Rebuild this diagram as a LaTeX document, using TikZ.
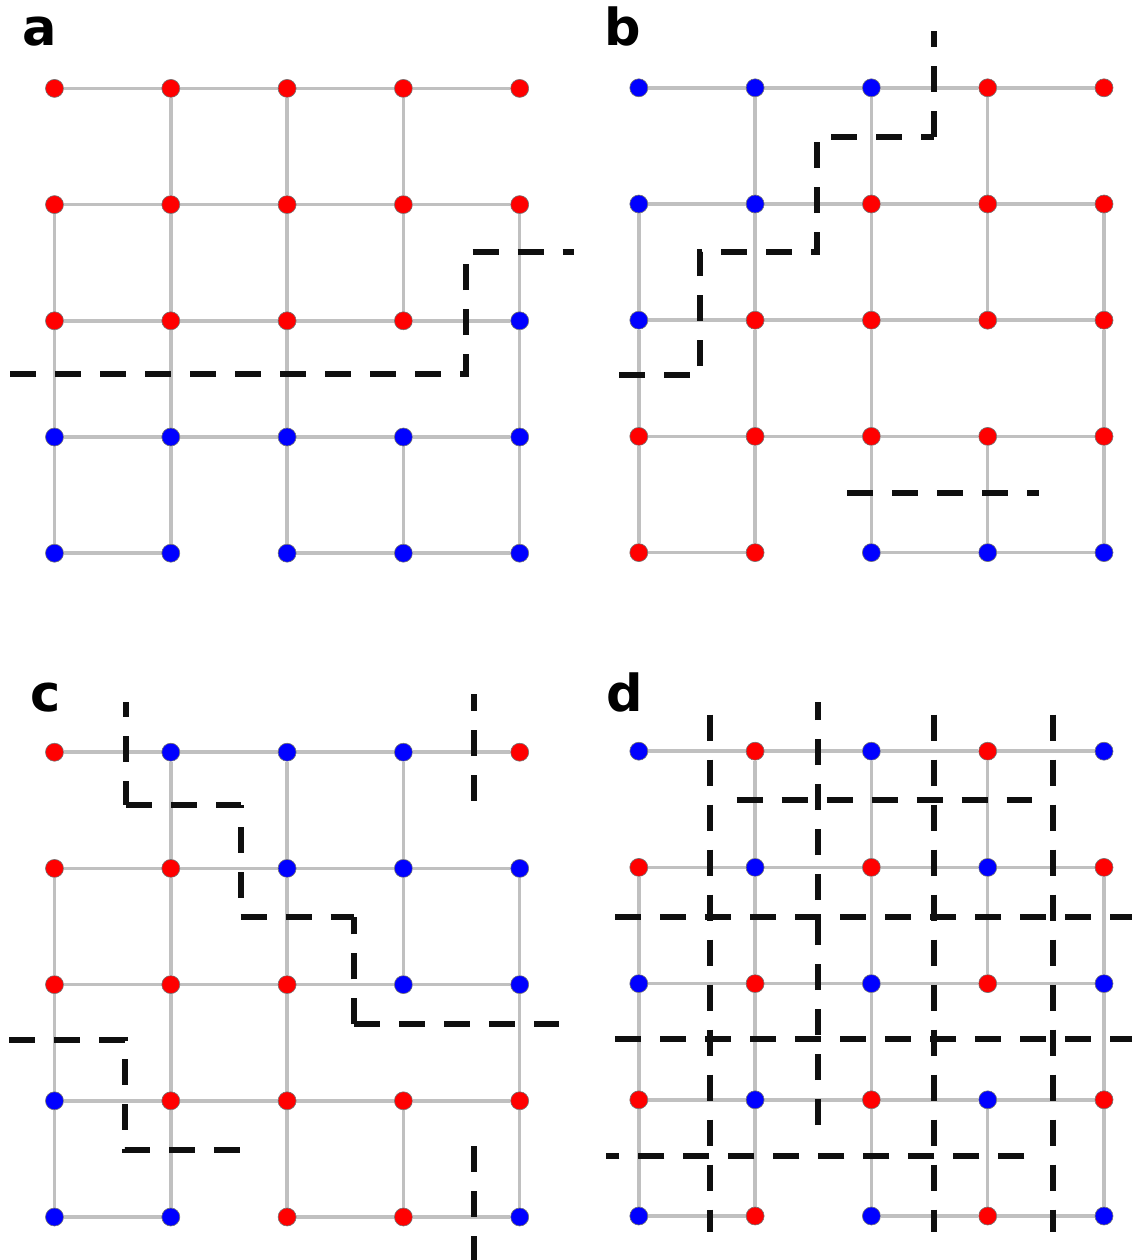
\documentclass[tikz,border=0pt]{standalone}
\usepackage{fontspec}
\newfontfamily\lblfont{DejaVu Sans}
\pgfdeclarelayer{bg}
\pgfsetlayers{bg,main}
\definecolor{dotred}{RGB}{255,0,0}
\definecolor{dotblue}{RGB}{0,0,255}
\definecolor{edgegray}{RGB}{192,192,192}
\definecolor{cutblack}{RGB}{15,15,15}
\tikzset{
  dotr/.style={circle, fill=dotred, draw=black!55, line width=0.6pt, minimum size=18pt, inner sep=0pt},
  dotb/.style={circle, fill=dotblue, draw=black!55, line width=0.6pt, minimum size=18pt, inner sep=0pt},
  gridedge/.style={draw=edgegray, line width=3.5pt},
  cutline/.style={draw=cutblack, line width=6pt, dash pattern=on 26pt off 19pt},
  lbl/.style={anchor=base west, inner sep=0pt, font=\lblfont\bfseries\fontsize{51}{60}\selectfont}
}
\newcommand\mkpanel[4]{%
  \foreach \col [count=\i from 0] in {#4} {
    \pgfmathtruncatemacro\cx{mod(\i,5)}
    \pgfmathtruncatemacro\cy{div(\i,5)}
    \node[dot\col] (#1-\cx-\cy) at ({#2+\cx*116.3},{#3+\cy*116.2}) {};
  }
}
\begin{document}
\begin{tikzpicture}[x=1pt,y=-1pt]
\useasboundingbox (0,0) rectangle (1132,1260);

% dots
\mkpanel{A}{54.5}{88.4}{r,r,r,r,r, r,r,r,r,r, r,r,r,r,b, b,b,b,b,b, b,b,b,b,b}
\mkpanel{B}{638.8}{87.8}{b,b,b,r,r, b,b,r,r,r, b,r,r,r,r, r,r,r,r,r, r,r,b,b,b}
\mkpanel{C}{54.5}{752.2}{r,b,b,b,r, r,r,b,b,b, r,r,r,b,b, b,r,r,r,r, b,b,r,r,b}
\mkpanel{D}{638.8}{751.2}{b,r,b,r,b, r,b,r,b,r, b,r,b,r,b, r,b,r,b,r, b,r,b,r,b}

% grid edges
\begin{pgfonlayer}{bg}
\foreach \p in {A,B,C,D}{
  \foreach \r in {0,...,3}{
    \foreach \c/\d in {0/1,1/2,2/3,3/4}{\draw[gridedge] (\p-\c-\r) -- (\p-\d-\r);}
  }
  \foreach \c/\d in {0/1,2/3,3/4}{\draw[gridedge] (\p-\c-4) -- (\p-\d-4);}
  \foreach \c/\r/\s in {0/1/2,0/2/3,0/3/4, 1/0/1,1/1/2,1/2/3,1/3/4, 2/0/1,2/1/2,2/2/3,2/3/4, 3/0/1,3/1/2,3/3/4, 4/1/2,4/2/3,4/3/4}{\draw[gridedge] (\p-\c-\r) -- (\p-\c-\s);}
}
\end{pgfonlayer}

% labels
\node[lbl] (la) at (22,46) {a};
\node[lbl] (lb) at (604,46) {b};
\node[lbl] (lc) at (30,711) {c};
\node[lbl] (ld) at (606,711) {d};

% panel a cut
\draw[cutline] (10,374) -- (466,374) -- (466,251.7) -- (574,251.7);

% panel b cuts
\draw[cutline] (619,375) -- (700,375) -- (700,252) -- (817,252) -- (817,137) -- (934,137);
\draw[cutline] (934,137) -- (934,31);
\draw[cutline] (847,493) -- (1039,493);

% panel c cuts
\draw[cutline, dash phase=11pt] (126,702) -- (126,805.4);
\draw[cutline] (126,805.4) -- (240.5,805.4);
\draw[cutline, dash phase=23pt] (240.5,805.4) -- (240.5,917);
\draw[cutline] (240.5,917) -- (354.4,917);
\draw[cutline] (354.4,1024.3) -- (354.4,917);
\draw[cutline] (354.4,1024.3) -- (559,1024.3);
\draw[cutline] (9,1040) -- (124.7,1040) -- (124.7,1150) -- (240,1150);
\draw[cutline] (474,800.5) -- (474,694);
\draw[cutline] (474,1146) -- (474,1260);

% panel d cuts
\foreach \x in {709.6,934,1053}{\draw[cutline] (\x,714.7) -- (\x,1232);}
\draw[cutline] (818.4,1125) -- (818.4,702);
\draw[cutline] (736.7,799.5) -- (1032,799.5);
\draw[cutline] (615,916.8) -- (1132,916.8);
\draw[cutline] (615,1039.4) -- (1132,1039.4);
\draw[cutline] (1024.4,1155.6) -- (606,1155.6);
\end{tikzpicture}
\end{document}
